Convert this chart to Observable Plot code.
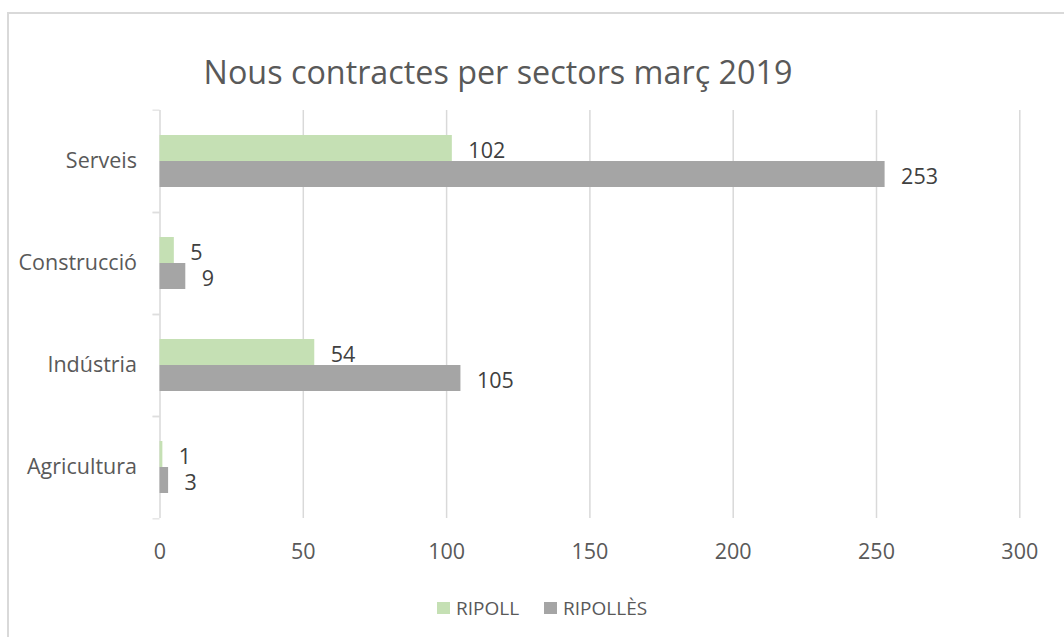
<!DOCTYPE html>
<html><head><meta charset="utf-8">
<script src="https://cdn.jsdelivr.net/npm/d3@7"></script>
<script src="https://cdn.jsdelivr.net/npm/@observablehq/plot@0.6"></script>
<style>
body{margin:0;background:#fff}
#wrap{position:relative;width:1064px;height:637px;overflow:hidden;font-family:'Open Sans',sans-serif}
#frame{position:absolute;left:7px;top:12px;width:1100px;height:700px;border:2px solid #d9d9d9;box-sizing:border-box}
#title{position:absolute;left:0;width:996px;top:54.6px;text-align:center;font-size:32.3px;line-height:32px;color:#595959;white-space:nowrap}
#legend{position:absolute;left:437px;top:591px}
#legend *{font-family:'Open Sans',sans-serif !important;font-size:19px !important;color:#595959 !important}
#legend [class$="-swatch"]{margin-right:25px !important}
#legend svg{margin-right:6px !important}
#chart{position:absolute;left:0;top:0}
</style></head>
<body><div id="wrap"><div id="frame"></div><div id="chart"></div><div id="title"></div><div id="legend"></div></div>
<script>
const title = "Nous contractes per sectors març 2019";
const sectors = ["Serveis", "Construcció", "Indústria", "Agricultura"];
const series = ["RIPOLL", "RIPOLLÈS"];
const ripoll = [102, 5, 54, 1];
const ripolles = [253, 9, 105, 3];
const seriesColors = ["#c5e0b4", "#a5a5a5"];
const xTicks = [0, 50, 100, 150, 200, 250, 300];

const rows = sectors.flatMap((s, i) => [
  {sector: s, series: series[0], value: ripoll[i]},
  {sector: s, series: series[1], value: ripolles[i]}
]);

const W = 1064, H = 637, mt = 108, mb = 118, ml = 159.5, mr = 44.7;
const half = (H - mt - mb) / sectors.length / 2;

const plot = Plot.plot({
  width: W, height: H,
  marginTop: mt, marginBottom: mb, marginLeft: ml, marginRight: mr,
  style: {fontFamily: "'Open Sans', sans-serif", fontSize: "21.5px", color: "#595959", background: "transparent", overflow: "visible"},
  x: {domain: [0, 300]},
  y: {domain: series, paddingInner: 0, paddingOuter: 0.94, axis: null},
  fy: {domain: sectors, padding: 0},
  color: {domain: series, range: seriesColors},
  marks: [
    Plot.gridX(xTicks, {stroke: "#d9d9d9", strokeOpacity: 1, strokeWidth: 1.5}),
    Plot.barX(rows, {x: "value", y: "series", fy: "sector", fill: "series"}),
    Plot.text(rows, {x: "value", y: "series", fy: "sector", text: d => String(d.value), textAnchor: "start", dx: 16, dy: 3, fill: "#404040"}),
    Plot.axisX(xTicks, {tickSize: 0, tickPadding: 25, label: null}),
    Plot.axisFy({anchor: "left", tickSize: 0, tickPadding: 23, label: null}),
    Plot.axisFy({anchor: "left", tickSize: 7, tickFormat: () => "", dy: -half, stroke: "#d9d9d9", label: null}),
    Plot.axisFy([sectors[sectors.length - 1]], {anchor: "left", tickSize: 7, tickFormat: () => "", dy: half, stroke: "#d9d9d9", label: null})
  ]
});
document.getElementById("chart").appendChild(plot);
document.getElementById("title").textContent = title;
document.getElementById("legend").appendChild(plot.legend("color", {className: "leg", swatchWidth: 13, swatchHeight: 12}));
</script>
</body></html>
